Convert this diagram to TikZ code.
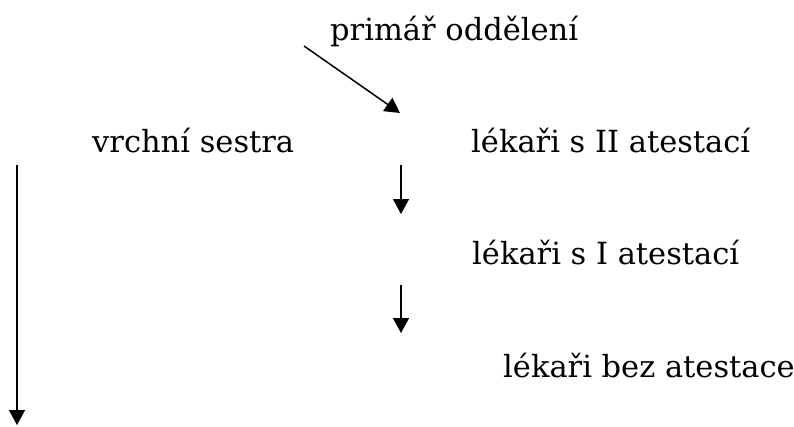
\documentclass[tikz,border=0pt]{standalone}
\usepackage{fontspec}
\setmainfont{DejaVu Serif}
\usetikzlibrary{arrows.meta}
\begin{document}
\begin{tikzpicture}[x=1pt,y=-1pt,
  lbl/.style={anchor=base west,inner sep=0pt,font=\fontsize{30.5}{36}\selectfont},
  arr/.style={line width=1.5pt,-{Triangle[length=15pt,width=16pt]}}]
\useasboundingbox (0,0) rectangle (794,426);
\node[lbl] (prim) at (330,40) {primář oddělení};
\node[lbl] (vs) at (92,152) {vrchní sestra};
\node[lbl] (l2) at (471,152) {lékaři s II atestací};
\node[lbl] (l1) at (472,264) {lékaři s I atestací};
\node[lbl] (l0) at (503,377) {lékaři bez atestace};
\coordinate (d0) at (304,46);
\coordinate (d1) at (400,113);
\coordinate (a0) at (17,165);
\coordinate (a1) at (17,425);
\coordinate (b0) at (401,165);
\coordinate (b1) at (401,214);
\coordinate (c0) at (401,285);
\coordinate (c1) at (401,333);
\draw[arr] (d0) -- (d1);
\draw[arr] (a0) -- (a1);
\draw[arr] (b0) -- (b1);
\draw[arr] (c0) -- (c1);
\end{tikzpicture}
\end{document}
